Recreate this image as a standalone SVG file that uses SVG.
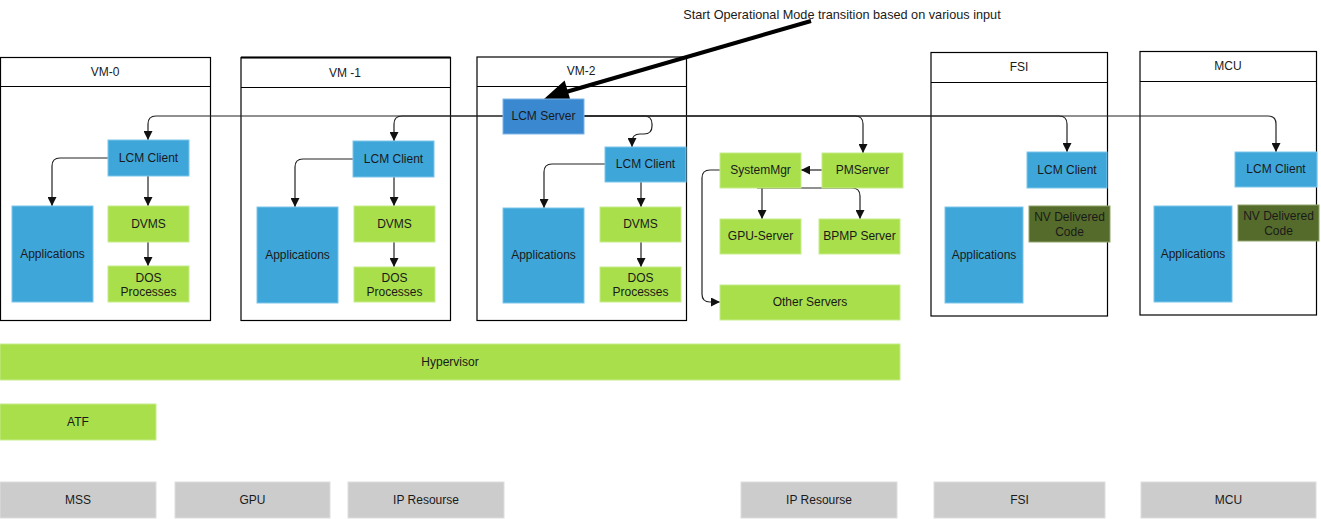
<svg xmlns="http://www.w3.org/2000/svg" width="1321" height="519" viewBox="0 0 1321 519">
<defs>
<style>
text{font-family:"Liberation Sans",Arial,sans-serif;font-size:12px;fill:#1a1a1a;text-anchor:middle;dominant-baseline:central}
.note{font-size:12.7px}
.frame{fill:#fff;stroke:#000;stroke-width:1.2}
.hdr{stroke:#000;stroke-width:1.2}
.blue{fill:#3fa6da;stroke:#7cc6ea;stroke-width:1}
.srv{fill:#3a88d0;stroke:#7fb6e6;stroke-width:1}
.green{fill:#a8df4b;stroke:#c6ec8a;stroke-width:1}
.olive{fill:#556b2b;stroke:#8fa36a;stroke-width:1}
.gray{fill:#cccccc;stroke:#dedede;stroke-width:1}
.c{fill:none;stroke:#222;stroke-width:1.2}
</style>
<marker id="ah" markerUnits="userSpaceOnUse" markerWidth="9" markerHeight="9" viewBox="0 0 10 10" refX="10" refY="5" orient="auto">
<path d="M0,0 L10,5 L0,10 z" fill="#111"/>
</marker>
</defs>

<g id="vm0">
<rect class="frame" x="0.5" y="57.5" width="210" height="263"/>
<line class="hdr" x1="0.5" y1="86.5" x2="210.5" y2="86.5"/>
<text x="105" y="72">VM-0</text>
</g>
<g id="vm1">
<rect class="frame" x="241" y="57.5" width="209.5" height="263"/>
<line x1="241" y1="57.5" x2="450.5" y2="57.5" stroke="#000" stroke-width="2"/>
<line class="hdr" x1="241" y1="87.5" x2="450.5" y2="87.5"/>
<text x="345" y="73">VM -1</text>
</g>
<g id="vm2">
<rect class="frame" x="477" y="57" width="209.5" height="263.5"/>
<line class="hdr" x1="477" y1="86.5" x2="686.5" y2="86.5"/>
<text x="581" y="71">VM-2</text>
</g>
<g id="fsi">
<rect class="frame" x="931" y="52.5" width="176.5" height="263.5"/>
<line class="hdr" x1="931" y1="82.5" x2="1107.5" y2="82.5"/>
<text x="1019" y="67">FSI</text>
</g>
<g id="mcu">
<rect class="frame" x="1140" y="51.5" width="176.5" height="263.5"/>
<line class="hdr" x1="1140" y1="81.5" x2="1316.5" y2="81.5"/>
<text x="1228" y="66">MCU</text>
</g>

<g id="connectors">
<path class="c" d="M503,116 H156 Q148,116 148,124 V140" marker-end="url(#ah)"/>
<path class="c" d="M503,116 H402 Q394,116 394,124 V141" marker-end="url(#ah)"/>
<path class="c" d="M584,116 H644 Q652,116 652,124 V126 Q652,134 644,134 H640 Q632,134 632,142 V147" marker-end="url(#ah)"/>
<path class="c" d="M584,116 H855 Q863,116 863,124 V153" marker-end="url(#ah)"/>
<path class="c" d="M584,116 H1059 Q1067,116 1067,124 V152" marker-end="url(#ah)"/>
<path class="c" d="M584,116 H1268 Q1276,116 1276,124 V152" marker-end="url(#ah)"/>
<path class="c" d="M108,158 H60 Q52,158 52,166 V206" marker-end="url(#ah)"/>
<path class="c" d="M148,176 V206" marker-end="url(#ah)"/>
<path class="c" d="M148,242 V266" marker-end="url(#ah)"/>
<path class="c" d="M353,159 H303 Q295,159 295,167 V207" marker-end="url(#ah)"/>
<path class="c" d="M394,177 V206" marker-end="url(#ah)"/>
<path class="c" d="M394,242 V267" marker-end="url(#ah)"/>
<path class="c" d="M605,164 H552 Q544,164 544,172 V208" marker-end="url(#ah)"/>
<path class="c" d="M641,182 V207" marker-end="url(#ah)"/>
<path class="c" d="M641,242 V267" marker-end="url(#ah)"/>
<path class="c" d="M822,170 H801" marker-end="url(#ah)"/>
<path class="c" d="M762,188 V219" marker-end="url(#ah)"/>
<path class="c" d="M757,188 H852 Q860,188 860,196 V219" marker-end="url(#ah)"/>
<path class="c" d="M720,170 H710 Q702,170 702,178 V294 Q702,302 710,302 H720" marker-end="url(#ah)"/>
<line x1="811" y1="21" x2="566" y2="92" stroke="#000" stroke-width="4"/>
<polygon points="544,99 564.6,80.5 571.4,103.5" fill="#000"/>
</g>

<g id="vm0-lcm"><rect class="blue" x="108" y="140" width="81" height="36"/><text x="148.5" y="158">LCM Client</text></g>
<g id="vm0-apps"><rect class="blue" x="12" y="206" width="81" height="96"/><text x="52.5" y="254">Applications</text></g>
<g id="vm0-dvms"><rect class="green" x="108" y="206" width="81" height="36"/><text x="148.5" y="224">DVMS</text></g>
<g id="vm0-dos"><rect class="green" x="108" y="266" width="81" height="36"/><text x="148.5" y="278">DOS</text><text x="148.5" y="292">Processes</text></g>

<g id="vm1-lcm"><rect class="blue" x="353" y="141" width="81" height="36"/><text x="393.5" y="159">LCM Client</text></g>
<g id="vm1-apps"><rect class="blue" x="257" y="207" width="81" height="96"/><text x="297.5" y="255">Applications</text></g>
<g id="vm1-dvms"><rect class="green" x="354" y="206" width="81" height="36"/><text x="394.5" y="224">DVMS</text></g>
<g id="vm1-dos"><rect class="green" x="354" y="267" width="81" height="35"/><text x="394.5" y="278">DOS</text><text x="394.5" y="292">Processes</text></g>

<g id="vm2-server"><rect class="srv" x="503" y="99" width="81" height="35"/><text x="543.5" y="116">LCM Server</text></g>
<g id="vm2-lcm"><rect class="blue" x="605" y="147" width="81" height="35"/><text x="645.5" y="164">LCM Client</text></g>
<g id="vm2-apps"><rect class="blue" x="503" y="208" width="81" height="95"/><text x="543.5" y="255">Applications</text></g>
<g id="vm2-dvms"><rect class="green" x="600" y="207" width="81" height="35"/><text x="640.5" y="224">DVMS</text></g>
<g id="vm2-dos"><rect class="green" x="600" y="267" width="81" height="35"/><text x="640.5" y="278">DOS</text><text x="640.5" y="292">Processes</text></g>

<g id="systemmgr"><rect class="green" x="720" y="153" width="81" height="35"/><text x="760.5" y="170">SystemMgr</text></g>
<g id="pmserver"><rect class="green" x="822" y="153" width="81" height="35"/><text x="862.5" y="170">PMServer</text></g>
<g id="gpuserver"><rect class="green" x="720" y="219" width="81" height="35"/><text x="760.5" y="236">GPU-Server</text></g>
<g id="bpmp"><rect class="green" x="819" y="219" width="81" height="35"/><text x="859.5" y="236">BPMP Server</text></g>
<g id="other"><rect class="green" x="720" y="285" width="180" height="35"/><text x="810" y="302">Other Servers</text></g>

<g id="fsi-lcm"><rect class="blue" x="1027" y="152" width="80" height="36"/><text x="1067" y="170">LCM Client</text></g>
<g id="fsi-apps"><rect class="blue" x="945" y="207" width="78" height="96"/><text x="984" y="255">Applications</text></g>
<g id="fsi-nv"><rect class="olive" x="1029" y="206" width="81" height="36"/><text x="1069.5" y="217">NV Delivered</text><text x="1069.5" y="232">Code</text></g>

<g id="mcu-lcm"><rect class="blue" x="1235" y="152" width="82" height="35"/><text x="1276" y="169">LCM Client</text></g>
<g id="mcu-apps"><rect class="blue" x="1154" y="206" width="78" height="96"/><text x="1193" y="254">Applications</text></g>
<g id="mcu-nv"><rect class="olive" x="1238" y="205" width="81" height="36"/><text x="1278.5" y="216">NV Delivered</text><text x="1278.5" y="231">Code</text></g>

<g id="hypervisor"><rect class="green" x="0" y="344" width="900" height="36"/><text x="450" y="362">Hypervisor</text></g>
<g id="atf"><rect class="green" x="0" y="404" width="156" height="36"/><text x="78" y="422">ATF</text></g>

<g id="mss"><rect class="gray" x="0" y="482" width="156" height="36"/><text x="78" y="500">MSS</text></g>
<g id="gpu"><rect class="gray" x="175" y="482" width="155" height="36"/><text x="252.5" y="500">GPU</text></g>
<g id="ipres1"><rect class="gray" x="348" y="482" width="156" height="36"/><text x="426" y="500">IP Resourse</text></g>
<g id="ipres2"><rect class="gray" x="741" y="482" width="156" height="36"/><text x="819" y="500">IP Resourse</text></g>
<g id="fsi-hw"><rect class="gray" x="934" y="482" width="171" height="36"/><text x="1019.5" y="500">FSI</text></g>
<g id="mcu-hw"><rect class="gray" x="1141" y="482" width="175" height="36"/><text x="1228.5" y="500">MCU</text></g>

<g id="note"><text class="note" x="842" y="15">Start Operational Mode transition based on various input</text></g>
</svg>
